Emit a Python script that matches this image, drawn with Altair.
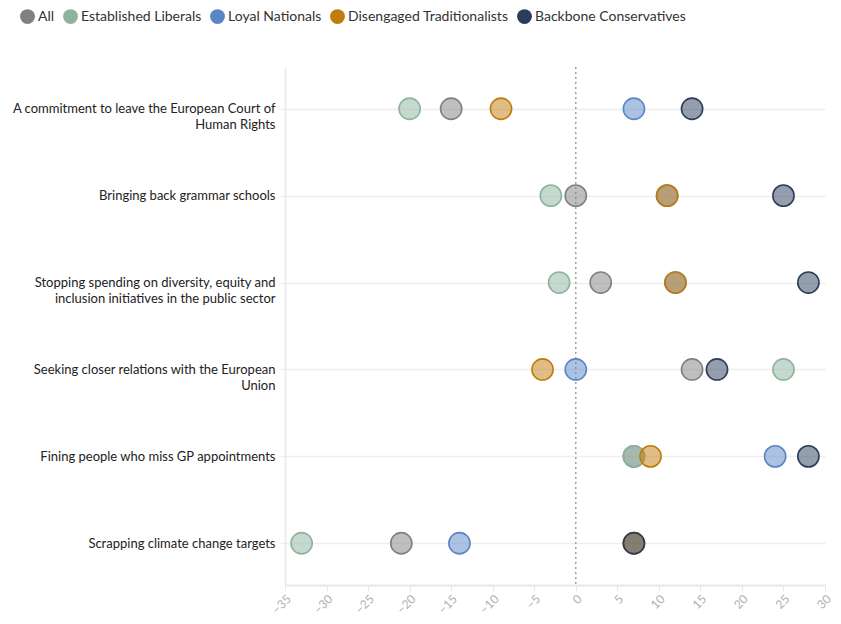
import altair as alt
import pandas as pd

statements = [
    "A commitment to leave the European Court of|Human Rights",
    "Bringing back grammar schools",
    "Stopping spending on diversity, equity and|inclusion initiatives in the public sector",
    "Seeking closer relations with the European|Union",
    "Fining people who miss GP appointments",
    "Scrapping climate change targets",
]
groups = ["All", "Established Liberals", "Loyal Nationals",
          "Disengaged Traditionalists", "Backbone Conservatives"]
colors = ["#808080", "#8db39f", "#5a86c5", "#c27c0e", "#2c3d5b"]

all_vals = [-15, 0, 3, 14, 7, -21]
est_lib_vals = [-20, -3, -2, 25, 7, -33]
loyal_nat_vals = [7, 11, 12, 0, 24, -14]
diseng_trad_vals = [-9, 11, 12, -4, 9, 7]
backbone_con_vals = [14, 25, 28, 17, 28, 7]
x_ticks = [-35, -30, -25, -20, -15, -10, -5, 0, 5, 10, 15, 20, 25, 30]

series = [all_vals, est_lib_vals, loyal_nat_vals, diseng_trad_vals, backbone_con_vals]
rows = []
for gi, (g, vals) in enumerate(zip(groups, series)):
    for s, v in zip(statements, vals):
        rows.append({"statement": s, "group": g, "value": v, "gi": gi})
df = pd.DataFrame(rows)

font = "Lato"
color_scale = alt.Scale(domain=groups, range=colors)

points = alt.Chart(df).mark_circle(
    size=450, fillOpacity=0.5, strokeWidth=1.6, strokeOpacity=1
).encode(
    x=alt.X("value:Q",
            scale=alt.Scale(domain=[-35, 30], nice=False, zero=False),
            axis=alt.Axis(values=x_ticks, title=None, grid=False, labelAngle=315,
                          labelColor="#b0b0b0", labelFontSize=12, labelFont=font,
                          domainColor="#e8e8e8", domainWidth=2, tickColor="#e8e8e8",
                          tickSize=6)),
    y=alt.Y("statement:N", sort=statements,
            scale=alt.Scale(domain=statements, padding=0.48),
            axis=alt.Axis(title=None, labelExpr="split(datum.label, '|')",
                          labelFontSize=13, labelFont=font, labelColor="#222222",
                          labelLimit=400, labelLineHeight=16, labelPadding=4,
                          grid=True, gridColor="#eeeeee", gridWidth=1.5,
                          domainColor="#eeeeee", domainWidth=2,
                          tickColor="#eeeeee", tickSize=6)),
    color=alt.Color("group:N", scale=color_scale, sort=groups,
                    legend=alt.Legend(title=None, orient="none", direction="horizontal",
                                      legendX=-265, legendY=-58, padding=0,
                                      symbolType="circle", symbolSize=220,
                                      symbolOpacity=1, symbolStrokeWidth=0,
                                      labelFontSize=14, labelFont=font,
                                      labelColor="#333333", columnPadding=8,
                                      labelOffset=3, labelLimit=400)),
    stroke=alt.Stroke("group:N", scale=color_scale, legend=None),
    order=alt.Order("gi:Q"),
)

zero_rule = alt.Chart(pd.DataFrame({"x": [0]})).mark_rule(
    color="#a0a0a0", strokeDash=[2, 3], strokeWidth=1.5
).encode(x="x:Q")

chart = alt.layer(zero_rule, points).properties(
    width=825, height=608,
    autosize=alt.AutoSizeParams(type="fit", contains="padding"),
    padding={"left": 3, "top": 58, "right": 0, "bottom": 0},
).configure_view(stroke=None)

chart.save("out.html", embed_options={"renderer": "svg", "actions": False})
